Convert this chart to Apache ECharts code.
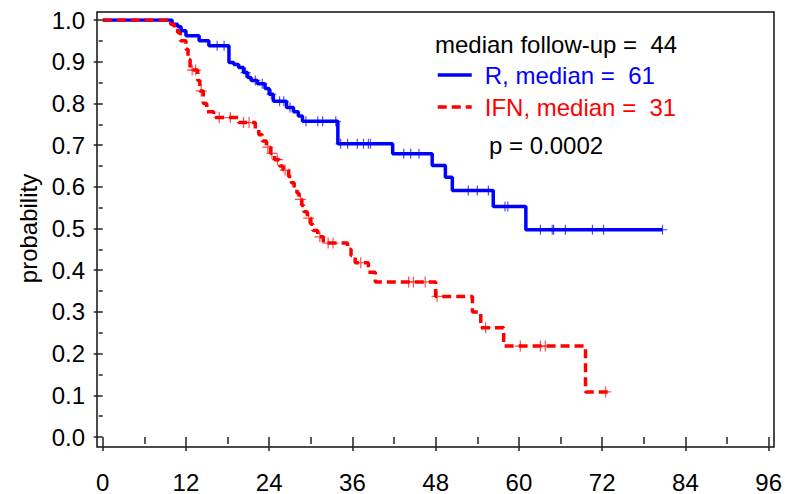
<!DOCTYPE html>
<html>
<head>
<meta charset="utf-8">
<script src="https://cdn.jsdelivr.net/npm/echarts@6.0.0/dist/echarts.min.js"></script>
<style>html,body{margin:0;padding:0;background:#fff}#c{width:785px;height:494px}</style>
</head>
<body>
<div id="c"></div>
<script>
// ---- data ----
const xTicks = [0, 12, 24, 36, 48, 60, 72, 84, 96];
const yTicks = [0.0, 0.1, 0.2, 0.3, 0.4, 0.5, 0.6, 0.7, 0.8, 0.9, 1.0];

const rName = 'R, median =  61';
const rTimes = [0, 10.0, 10.8, 11.3, 12.0, 13.9, 15.3, 18.2, 18.9, 19.6, 20.3, 20.9, 21.4, 22.3, 23.4, 24.0, 24.6, 26.5, 27.5, 28.2, 28.8, 33.9, 41.8, 47.5, 49.4, 50.4, 56.3, 61.0, 80.7];
const rSurv  = [1.0, 0.99, 0.984, 0.974, 0.962, 0.95, 0.938, 0.898, 0.893, 0.886, 0.874, 0.862, 0.855, 0.847, 0.836, 0.822, 0.805, 0.79, 0.78, 0.77, 0.757, 0.703, 0.679, 0.651, 0.623, 0.591, 0.553, 0.497, 0.497];
const rCensor = [16.5, 17.5, 20.6, 22.0, 23.0, 24.3, 25.5, 26.1, 27.0, 29.3, 31.0, 31.7, 33.6, 34.3, 35.3, 36.7, 37.6, 38.3, 38.6, 43.4, 44.4, 45.6, 52.7, 54.0, 55.6, 58.0, 58.4, 63.1, 64.8, 65.0, 66.7, 70.6, 72.2, 80.7];

const ifnName = 'IFN, median =  31';
const ifnTimes = [0, 9.8, 10.3, 10.8, 11.2, 12.0, 12.3, 12.6, 13.7, 14.0, 14.5, 15.0, 16.0, 19.6, 22.0, 22.5, 23.0, 23.6, 24.2, 24.8, 25.5, 26.0, 26.8, 27.2, 27.6, 28.0, 28.3, 28.7, 29.0, 29.5, 30.0, 30.3, 31.0, 31.8, 35.3, 35.8, 36.4, 38.3, 39.3, 48.0, 53.3, 54.5, 57.8, 69.6, 72.8];
const ifnSurv  = [1.0, 0.99, 0.98, 0.97, 0.95, 0.93, 0.905, 0.88, 0.855, 0.83, 0.80, 0.78, 0.766, 0.754, 0.74, 0.725, 0.71, 0.695, 0.68, 0.665, 0.65, 0.64, 0.625, 0.61, 0.598, 0.585, 0.57, 0.555, 0.54, 0.525, 0.51, 0.495, 0.48, 0.465, 0.45, 0.435, 0.418, 0.395, 0.372, 0.337, 0.30, 0.262, 0.218, 0.108, 0.108];
const ifnCensor = [12.9, 13.4, 14.2, 16.8, 18.4, 20.3, 21.1, 23.8, 24.4, 25.2, 26.3, 28.5, 29.7, 31.3, 32.5, 33.2, 37.2, 44.1, 44.8, 46.5, 48.2, 55.2, 60.2, 63.1, 63.8, 72.5];

const followUpText = 'median follow-up =  44';
const pText = 'p = 0.0002';

// ---- helpers ----
function survAt(times, surv, t) {
  let s = surv[0];
  for (let i = 0; i < times.length; i++) { if (times[i] <= t) s = surv[i]; }
  return s;
}
const zip = (a, b) => a.map((v, i) => [v, b[i]]);
const censorPts = (c, times, surv) => c.map(t => [t, survAt(times, surv, t)]);

const FONT = "'Liberation Sans', Arial, sans-serif";
const BLUE = '#0000FF', RED = '#FF0000';
const plus = 'path://M0,5L10,5M5,0L5,10';

const chart = echarts.init(document.getElementById('c'), null, { renderer: 'svg' });
chart.setOption({
  animation: false,
  backgroundColor: '#fff',
  textStyle: { fontFamily: FONT },
  title: [
    { text: followUpText, left: 435, top: 32, padding: 0,
      textStyle: { fontSize: 24, fontWeight: 'normal', color: '#000', fontFamily: FONT } },
    { text: pText, left: 489, top: 133, padding: 0,
      textStyle: { fontSize: 24, fontWeight: 'normal', color: '#000', fontFamily: FONT } }
  ],
  legend: {
    orient: 'vertical', left: 436, top: 63, padding: 0,
    itemWidth: 34, itemHeight: 14, itemGap: 8,
    selectedMode: false,
    itemStyle: { opacity: 0, color: 'transparent', borderWidth: 0 },
    lineStyle: { width: 3.5 },
    textStyle: { fontSize: 24, fontFamily: FONT, padding: [0, 0, 0, 8] },
    data: [
      { name: rName, textStyle: { color: BLUE } },
      { name: ifnName, textStyle: { color: RED } }
    ]
  },
  grid: [
    { left: 97, top: 12, right: 11, bottom: 47, show: true, borderColor: '#111', borderWidth: 1.5, backgroundColor: 'transparent' },
    { left: 102.7, width: 666.3, top: 20, height: 417 }
  ],
  xAxis: [
    { gridIndex: 0, type: 'value', show: false, min: 0, max: 1 },
    { gridIndex: 1, type: 'value', min: 0, max: 96, interval: 12, offset: 10,
      axisLine: { show: false },
      axisTick: { show: true, length: 14, lineStyle: { color: '#222', width: 1.5 } },
      minorTick: { show: true, splitNumber: 2, length: 7, lineStyle: { color: '#222', width: 1.5 } },
      splitLine: { show: false },
      axisLabel: { fontSize: 24, color: '#000', margin: 23, fontFamily: FONT,
        customValues: xTicks, formatter: v => String(v) } }
  ],
  yAxis: [
    { gridIndex: 0, type: 'value', show: false, min: 0, max: 1 },
    { gridIndex: 1, type: 'value', min: 0, max: 1, interval: 0.1, offset: 5.7,
      name: 'probability', nameLocation: 'middle', nameGap: 56, nameRotate: 90,
      nameTextStyle: { fontSize: 24, color: '#000', fontFamily: FONT },
      axisLine: { show: false },
      axisTick: { show: true, length: 9, lineStyle: { color: '#222', width: 1.5 } },
      minorTick: { show: true, splitNumber: 2, length: 4, lineStyle: { color: '#222', width: 1.5 } },
      splitLine: { show: false },
      axisLabel: { fontSize: 24, color: '#000', margin: 12, fontFamily: FONT,
        customValues: yTicks, formatter: v => v.toFixed(1) } }
  ],
  series: [
    { name: rName, type: 'line', xAxisIndex: 1, yAxisIndex: 1, step: 'end', symbol: 'none',
      data: zip(rTimes, rSurv), z: 3,
      lineStyle: { color: BLUE, width: 3.5 }, itemStyle: { color: BLUE } },
    { name: 'R censored', type: 'scatter', xAxisIndex: 1, yAxisIndex: 1, symbol: plus, symbolSize: 10,
      data: censorPts(rCensor, rTimes, rSurv), z: 4,
      itemStyle: { color: 'none', borderColor: BLUE, borderWidth: 1.2, opacity: 0.7 } },
    { name: ifnName, type: 'line', xAxisIndex: 1, yAxisIndex: 1, step: 'end', symbol: 'none',
      data: zip(ifnTimes, ifnSurv), z: 5,
      lineStyle: { color: RED, width: 3.5, type: [9, 5] }, itemStyle: { color: RED } },
    { name: 'IFN censored', type: 'scatter', xAxisIndex: 1, yAxisIndex: 1, symbol: plus, symbolSize: 11,
      data: censorPts(ifnCensor, ifnTimes, ifnSurv), z: 6,
      itemStyle: { color: 'none', borderColor: RED, borderWidth: 1.2, opacity: 0.7 } }
  ]
});
</script>
</body>
</html>
